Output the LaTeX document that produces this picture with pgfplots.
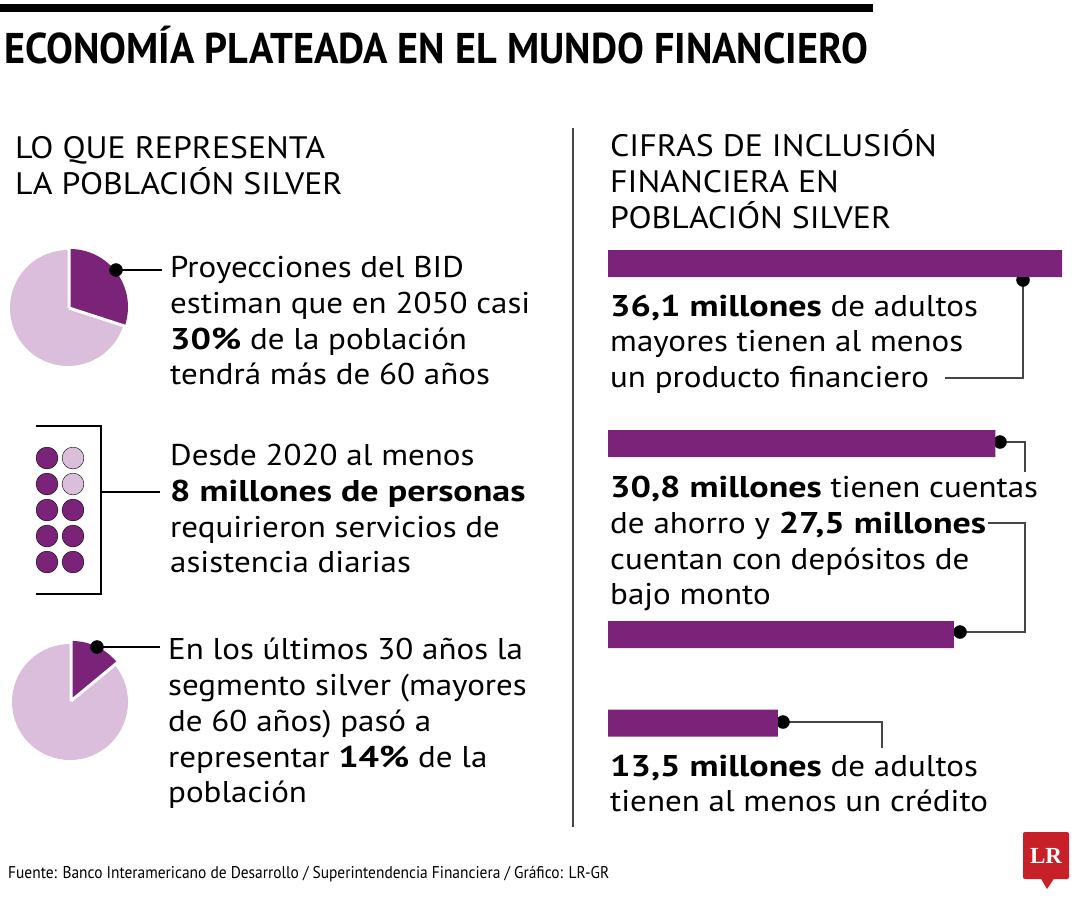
\documentclass[border=0pt]{standalone}
\usepackage{fontspec}
\usepackage{graphicx}
\usepackage{pgfplots}
\pgfplotsset{compat=1.18}
\setmainfont{PT Sans}[FakeStretch=1.10]
\newfontfamily\bfont{PT Sans}[UprightFont=*-Bold, FakeStretch=1.20]
\newfontfamily\headfont{PT Sans}[FakeStretch=1.09]
\newfontfamily\titlefont{PT Sans}[UprightFont=*-Bold]
\newfontfamily\footfont{PT Sans}
\newfontfamily\lrfont{Liberation Serif}
\newcommand{\B}[1]{{\bfont #1}}
\definecolor{dpurple}{RGB}{123,35,120}
\definecolor{lpurple}{RGB}{219,190,219}
\definecolor{lrred}{RGB}{200,32,40}
\definecolor{lgray}{RGB}{70,70,70}
\newcommand{\bl}[3]{\node[anchor=base west, inner sep=0pt] at (axis cs:#1,#2) {\fontsize{30}{36}\selectfont #3};}
\newcommand{\hl}[3]{\node[anchor=base west, inner sep=0pt] at (axis cs:#1,#2) {\headfont\fontsize{31}{36}\selectfont #3};}
% pie values (percent)
\def\pieA{30}
\def\pieB{14}
\pgfmathsetmacro{\angA}{90-3.6*\pieA}
\pgfmathsetmacro{\angB}{90-3.6*\pieB}
\begin{document}
\begin{tikzpicture}
\path[use as bounding box] (0,0) rectangle (1080pt,900pt);
\begin{axis}[at={(0,0)}, anchor=south west, width=1080pt, height=900pt, scale only axis,
  xmin=0, xmax=1080, ymin=0, ymax=900, y dir=reverse, axis lines=none, ticks=none, clip=false]
% top rule
\addplot[black, line width=8pt, line cap=butt] coordinates {(0,8) (873,8)};
% pies
\fill[lpurple] (axis cs:68,308) -- ++(\angA:58pt) arc[start angle=\angA, end angle=-270, radius=58pt] -- cycle;
\fill[dpurple] (axis cs:70,307) -- ++(90:58pt) arc[start angle=90, end angle=\angA, radius=58pt] -- cycle;
\draw[white, line width=3pt] (axis cs:69,308) -- ++(90:62pt) (axis cs:69,308) -- ++(\angA:62pt);
\fill[lpurple] (axis cs:70,702) -- ++(\angB:58pt) arc[start angle=\angB, end angle=-270, radius=58pt] -- cycle;
\fill[dpurple] (axis cs:72,699) -- ++(90:58pt) arc[start angle=90, end angle=\angB, radius=58pt] -- cycle;
\draw[white, line width=3pt] (axis cs:71,701) -- ++(90:62pt) (axis cs:71,701) -- ++(\angB:62pt);
% dot grid
\addplot[only marks, mark=*, mark size=10.9pt, mark options={draw=none, fill=dpurple}]
  coordinates {(47,458) (47,484) (47,510) (47,536) (47,562) (73,510) (73,536) (73,562)};
\addplot[only marks, mark=*, mark size=10.9pt, mark options={draw=none, fill=lpurple}]
  coordinates {(73,458) (73,484)};
% bracket and left connectors
\addplot[black, line width=1.2pt] coordinates {(36,426) (101,426) (101,594) (36,594)};
\addplot[black, line width=1.2pt] coordinates {(101,492) (160,492)};
\addplot[black, line width=1.2pt] coordinates {(116,270) (162,270)};
\addplot[black, line width=1.2pt] coordinates {(97,647) (160,647)};
% divider
\addplot[lgray, line width=1.5pt] coordinates {(573,128) (573,827)};
% right connectors
\addplot[lgray, line width=1.5pt] coordinates {(1023,280) (1023,378) (945,378)};
\addplot[lgray, line width=1.5pt] coordinates {(1000,442) (1025,442) (1025,472)};
\addplot[lgray, line width=1.5pt] coordinates {(988,523) (1025,523) (1025,632) (960,632)};
\addplot[lgray, line width=1.5pt] coordinates {(783,722) (882,722) (882,748)};
% black dots
\addplot[only marks, mark=*, mark size=6.5pt, mark options={draw=none, fill=black}]
  coordinates {(116,270) (97,647) (1023,280) (1000,442) (960,632) (783,722)};
% title
\node[anchor=base west, inner sep=0pt] at (axis cs:4,63) {\resizebox{864pt}{\height}{\titlefont\fontsize{43}{43}\selectfont ECONOMÍA PLATEADA EN EL MUNDO FINANCIERO}};
% headings
\hl{15}{158}{LO QUE REPRESENTA}
\hl{15}{194}{LA POBLACIÓN SILVER}
\hl{610}{156}{CIFRAS DE INCLUSIÓN}
\hl{610}{192}{FINANCIERA EN}
\hl{610}{228}{POBLACIÓN SILVER}
% left texts
\bl{170}{277}{Proyecciones del BID}
\bl{170}{313}{estiman que en 2050 casi}
\bl{170}{349}{\B{30\%} de la población}
\bl{170}{384}{tendrá más de 60 años}
\bl{170}{465}{Desde 2020 al menos}
\bl{170}{501}{\B{8 millones de personas}}
\bl{170}{537}{requirieron servicios de}
\bl{170}{572}{asistencia diarias}
\bl{168}{659}{En los últimos 30 años la}
\bl{168}{695}{segmento silver (mayores}
\bl{168}{731}{de 60 años) pasó a}
\bl{168}{767}{representar \B{14\%} de la}
\bl{168}{802}{población}
% right texts
\bl{610}{316}{\B{36,1 millones} de adultos}
\bl{610}{351}{mayores tienen al menos}
\bl{610}{387}{un producto financiero}
\bl{610}{497}{\B{30,8 millones} tienen cuentas}
\bl{610}{533}{de ahorro y \B{27,5 millones}}
\bl{610}{569}{cuentan con depósitos de}
\bl{610}{604}{bajo monto}
\bl{610}{776}{\B{13,5 millones} de adultos}
\bl{610}{811}{tienen al menos un crédito}
% footer
\node[anchor=base west, inner sep=0pt] at (axis cs:8,878) {\resizebox{601pt}{\height}{\footfont\fontsize{17}{17}\selectfont Fuente: Banco Interamericano de Desarrollo / Superintendencia Financiera / Gráfico: LR-GR}};
% LR logo
\fill[lrred, rounded corners=2pt] (axis cs:1023,832) rectangle (axis cs:1069,879);
\fill[lrred] (axis cs:1040,877) -- (axis cs:1047,889) -- (axis cs:1055,877) -- cycle;
\node[text=white, inner sep=0pt] at (axis cs:1046,856) {\lrfont\bfseries\fontsize{23}{23}\selectfont LR};
\end{axis}
\begin{axis}[at={(608pt,0)}, anchor=south west, width=454pt, height=900pt, scale only axis,
  xmin=0, xmax=36.1, ymin=0, ymax=900, y dir=reverse, axis lines=none, ticks=none, clip=false,
  xbar, bar width=27]
\addplot[fill=dpurple, draw=none] coordinates {(36.1,263.5) (30.8,443.5) (27.5,634.5) (13.5,723)};
\end{axis}
\end{tikzpicture}
\end{document}
